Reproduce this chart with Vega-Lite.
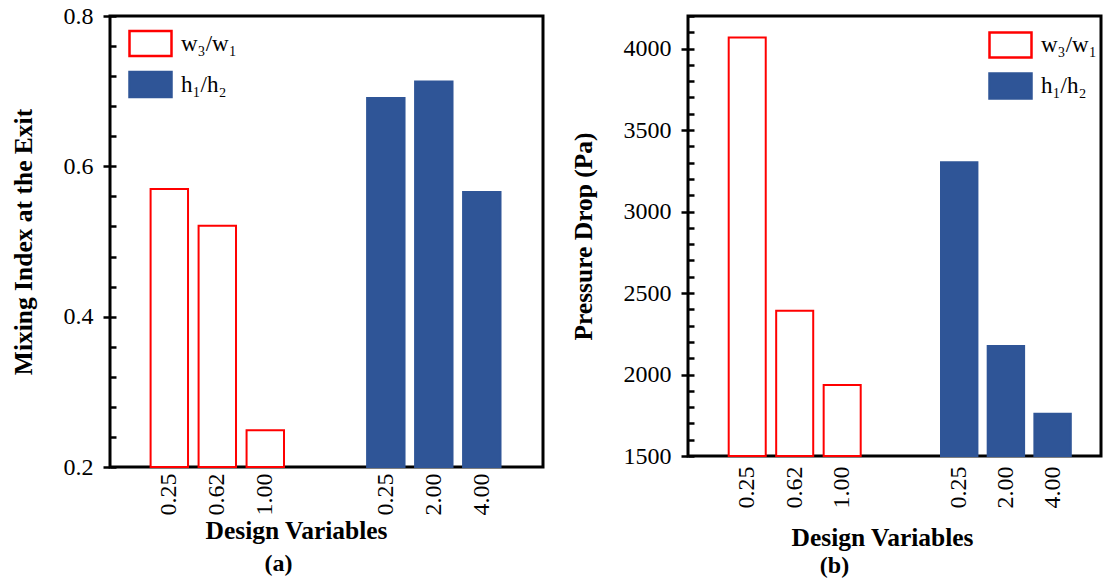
{
  "$schema": "https://vega.github.io/schema/vega-lite/v6.json",
  "background": "white",
  "padding": {"left": 10, "top": 2, "right": 0, "bottom": 0},
  "spacing": 24,
  "resolve": {"scale": {"fill": "independent", "stroke": "independent"}, "legend": {"fill": "independent", "stroke": "independent"}},
  "datasets": {
    "mixing": [
      {"group": "w₃/w₁", "ratio": "0.25", "value": 0.57},
      {"group": "w₃/w₁", "ratio": "0.62", "value": 0.521},
      {"group": "w₃/w₁", "ratio": "1.00", "value": 0.249},
      {"group": "h₁/h₂", "ratio": "0.25", "value": 0.691},
      {"group": "h₁/h₂", "ratio": "2.00", "value": 0.713},
      {"group": "h₁/h₂", "ratio": "4.00", "value": 0.566}
    ],
    "pressure": [
      {"group": "w₃/w₁", "ratio": "0.25", "value": 4068},
      {"group": "w₃/w₁", "ratio": "0.62", "value": 2391},
      {"group": "w₃/w₁", "ratio": "1.00", "value": 1935},
      {"group": "h₁/h₂", "ratio": "0.25", "value": 3303},
      {"group": "h₁/h₂", "ratio": "2.00", "value": 2175},
      {"group": "h₁/h₂", "ratio": "4.00", "value": 1759}
    ]
  },
  "config": {
    "view": {"stroke": "black", "strokeWidth": 3},
    "font": "Liberation Serif",
    "axis": {
      "labelFont": "Liberation Serif", "labelFontSize": 24, "labelColor": "black",
      "titleFont": "Liberation Serif", "titleFontSize": 25.5, "titleFontWeight": "bold", "titleColor": "black",
      "grid": false, "domain": false, "tickColor": "black", "tickWidth": 2.5
    },
    "legend": {
      "orient": "none", "direction": "vertical",
      "symbolType": "M-1,-0.6H1V0.6H-1Z", "symbolSize": 1764, "symbolStrokeWidth": 2.5,
      "labelFont": "Liberation Serif", "labelFontSize": 23, "labelColor": "black", "labelOffset": 8,
      "rowPadding": -6, "padding": 0
    },
    "title": {"font": "Liberation Serif", "fontSize": 24, "fontWeight": "bold", "color": "black"}
  },
  "hconcat": [
    {
      "width": 433, "height": 451,
      "title": {"text": "(a)", "orient": "bottom", "dx": -48, "offset": 8},
      "data": {"name": "mixing"},
      "encoding": {
        "y": {"field": "value", "type": "quantitative", "scale": {"domain": [0.2, 0.8], "nice": false, "zero": false}},
        "y2": {"datum": 0.2},
        "fill": {"field": "group", "type": "nominal", "scale": {"domain": ["w₃/w₁", "h₁/h₂"], "range": ["white", "#2f5597"]},
          "legend": {"title": null, "legendX": 18, "legendY": 5, "rowPadding": -6}},
        "stroke": {"field": "group", "type": "nominal", "scale": {"domain": ["w₃/w₁", "h₁/h₂"], "range": ["#ff0000", "#2f5597"]},
          "legend": {"title": null, "legendX": 18, "legendY": 5, "rowPadding": -6}}
      },
      "layer": [
        {
          "transform": [{"filter": "datum.group === 'w₃/w₁'"}],
          "mark": {"type": "bar", "strokeWidth": 2},
          "encoding": {
            "x": {"field": "ratio", "type": "ordinal", "sort": ["0.25", "0.62", "1.00"],
              "scale": {"domain": ["0.25", "0.62", "1.00"], "range": [40.6, 174], "paddingInner": 0.22, "paddingOuter": 0},
              "axis": {"orient": "bottom", "labelAngle": 270, "ticks": false, "tickSize": 0, "labelPadding": 6, "title": "Design Variables", "titleX": 186, "titlePadding": 3}},
            "y": {"field": "value", "type": "quantitative", "scale": {"domain": [0.2, 0.8], "nice": false, "zero": false},
              "axis": {"orient": "left", "title": "Mixing Index at the Exit", "values": [0.2, 0.4, 0.6, 0.8], "format": ".1f", "tickSize": 7, "labelPadding": 10, "titlePadding": 26.5}}
          }
        },
        {
          "transform": [{"filter": "datum.group === 'h₁/h₂'"}],
          "mark": {"type": "bar", "strokeWidth": 2},
          "encoding": {
            "x": {"field": "ratio", "type": "ordinal", "sort": ["0.25", "2.00", "4.00"],
              "scale": {"domain": ["0.25", "2.00", "4.00"], "range": [257.1, 390.5], "paddingInner": 0.22, "paddingOuter": 0},
              "axis": {"orient": "bottom", "labelAngle": 270, "ticks": false, "tickSize": 0, "labelPadding": 6, "title": null}},
            "y": {"field": "value", "type": "quantitative", "scale": {"domain": [0.2, 0.8], "nice": false, "zero": false},
              "axis": {"orient": "left", "title": null, "labels": false, "tickSize": -6,
                "values": [0.2, 0.24, 0.28, 0.32, 0.36, 0.4, 0.44, 0.48, 0.52, 0.56, 0.6, 0.64, 0.68, 0.72, 0.76, 0.8]}}
          }
        }
      ],
      "resolve": {"scale": {"x": "independent"}, "axis": {"x": "independent", "y": "independent"}}
    },
    {
      "width": 413, "height": 440,
      "title": {"text": "(b)", "orient": "bottom", "dx": -60, "offset": 3},
      "data": {"name": "pressure"},
      "encoding": {
        "y": {"field": "value", "type": "quantitative", "scale": {"domain": [1500, 4200], "nice": false, "zero": false}},
        "y2": {"datum": 1500},
        "fill": {"field": "group", "type": "nominal", "scale": {"domain": ["w₃/w₁", "h₁/h₂"], "range": ["white", "#2f5597"]},
          "legend": {"title": null, "legendX": 300, "legendY": 6.5, "rowPadding": -6}},
        "stroke": {"field": "group", "type": "nominal", "scale": {"domain": ["w₃/w₁", "h₁/h₂"], "range": ["#ff0000", "#2f5597"]},
          "legend": {"title": null, "legendX": 300, "legendY": 6.5, "rowPadding": -6}}
      },
      "layer": [
        {
          "transform": [{"filter": "datum.group === 'w₃/w₁'"}],
          "mark": {"type": "bar", "strokeWidth": 2},
          "encoding": {
            "x": {"field": "ratio", "type": "ordinal", "sort": ["0.25", "0.62", "1.00"],
              "scale": {"domain": ["0.25", "0.62", "1.00"], "range": [40.7, 172.7], "paddingInner": 0.22, "paddingOuter": 0},
              "axis": {"orient": "bottom", "labelAngle": 270, "ticks": false, "tickSize": 0, "labelPadding": 10, "title": "Design Variables", "titleX": 194, "titlePadding": 17}},
            "y": {"field": "value", "type": "quantitative", "scale": {"domain": [1500, 4200], "nice": false, "zero": false},
              "axis": {"orient": "left", "title": "Pressure Drop (Pa)", "values": [1500, 2000, 2500, 3000, 3500, 4000], "format": "d", "tickSize": 7, "labelPadding": 10, "titlePadding": 27}}
          }
        },
        {
          "transform": [{"filter": "datum.group === 'h₁/h₂'"}],
          "mark": {"type": "bar", "strokeWidth": 2},
          "encoding": {
            "x": {"field": "ratio", "type": "ordinal", "sort": ["0.25", "2.00", "4.00"],
              "scale": {"domain": ["0.25", "2.00", "4.00"], "range": [253, 382.8], "paddingInner": 0.22, "paddingOuter": 0},
              "axis": {"orient": "bottom", "labelAngle": 270, "ticks": false, "tickSize": 0, "labelPadding": 10, "title": null}},
            "y": {"field": "value", "type": "quantitative", "scale": {"domain": [1500, 4200], "nice": false, "zero": false},
              "axis": {"orient": "left", "title": null, "labels": false, "tickSize": -6,
                "values": [1500, 1600, 1700, 1800, 1900, 2000, 2100, 2200, 2300, 2400, 2500, 2600, 2700, 2800, 2900, 3000, 3100, 3200, 3300, 3400, 3500, 3600, 3700, 3800, 3900, 4000, 4100, 4200]}}
          }
        }
      ],
      "resolve": {"scale": {"x": "independent"}, "axis": {"x": "independent", "y": "independent"}}
    }
  ]
}
